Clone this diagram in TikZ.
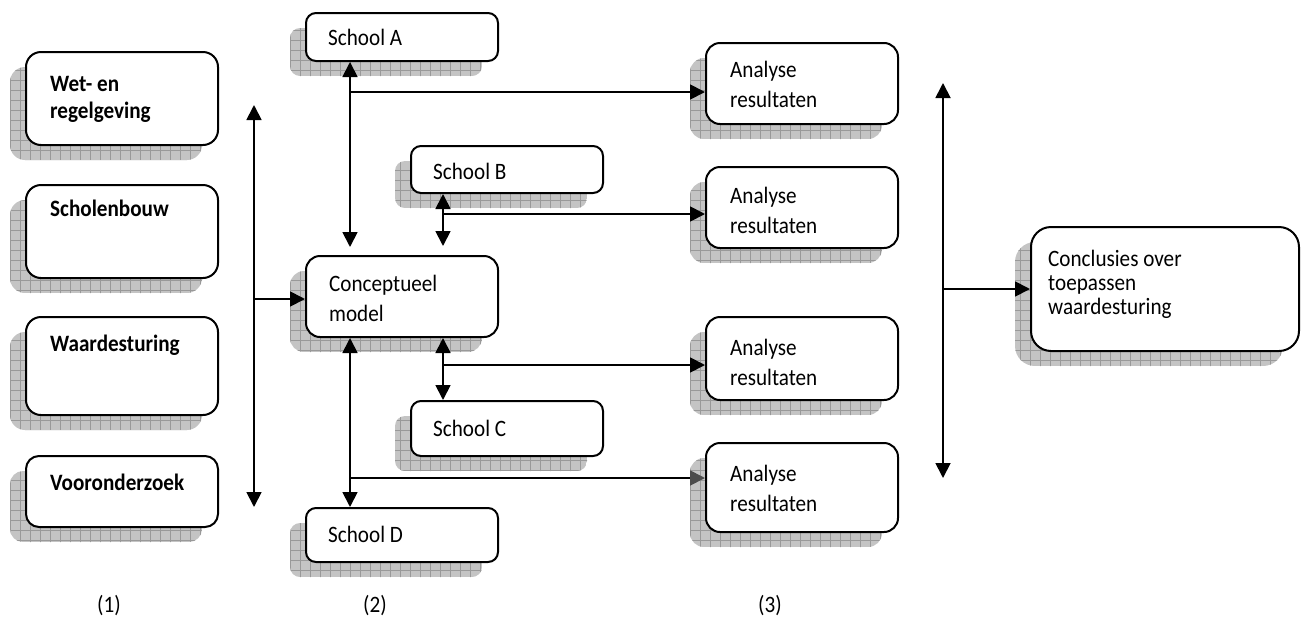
\documentclass[tikz,border=0pt]{standalone}
\usepackage{fontspec}
\setmainfont{Carlito}[FakeStretch=0.9]
\usetikzlibrary{arrows.meta}

\definecolor{shadowbase}{HTML}{C4C4C4}
\definecolor{shadowline}{HTML}{999999}

\tikzset{
  box/.style={draw=black, line width=2pt, fill=white, inner sep=0pt},
  shadowfill/.style={fill=shadowbase},
  shadowgrid/.style={draw=shadowline, line width=0.6pt, step=10pt},
  txt/.style={inner sep=0pt, anchor=west, align=left,
              font=\fontsize{23.5}{30}\selectfont},
  boldtxt/.style={txt, font=\fontsize{23.5}{27}\selectfont\bfseries},
  conn/.style={line width=1.8pt, -{Triangle[length=15pt,width=15pt]}},
  dblconn/.style={line width=1.8pt,
    {Triangle[length=15pt,width=15pt]}-{Triangle[length=15pt,width=15pt]}},
}

% rounded box with a gridded drop shadow to the lower left
% #1 name, #2 left, #3 top, #4 right, #5 bottom, #6 corner radius
\newcommand\shadedbox[6]{%
  \begin{scope}
    \clip[rounded corners=#6] ({#2-16},{#3+15}) rectangle ({#4-16},{#5+15});
    \fill[shadowfill] ({#2-16},{#3+15}) rectangle ({#4-16},{#5+15});
    \draw[shadowgrid] ({#2-26},{#3+5}) grid ({#4-6},{#5+25});
  \end{scope}
  \node[box, rounded corners=#6,
        minimum width={(#4-#2)*1pt}, minimum height={(#5-#3)*1pt}]
        (#1) at ({(#2+#4)/2},{(#3+#5)/2}) {};
}

\begin{document}
\begin{tikzpicture}[x=1pt,y=-1pt]
\useasboundingbox (0,0) rectangle (1306,619);

% column 1: sources
\shadedbox{wet}{26}{52}{218}{145}{15}
\shadedbox{bouw}{26}{185}{218}{278}{15}
\shadedbox{waarde}{26}{317}{218}{415}{15}
\shadedbox{voor}{26}{456}{218}{527}{13}
\node[boldtxt] (twet) at (50,99) {Wet- en\\regelgeving};
\node[boldtxt] (tbouw) at (50,208) {Scholenbouw};
\node[boldtxt] (twaarde) at (50,345) {Waardesturing};
\node[boldtxt] (tvoor) at (50,482) {Vooronderzoek};

% column 2: model and schools
\shadedbox{schA}{306}{13}{498}{61}{10}
\shadedbox{schB}{411}{146}{603}{193}{10}
\shadedbox{concept}{306}{256}{498}{337}{14}
\shadedbox{schC}{411}{401}{603}{456}{10}
\shadedbox{schD}{306}{508}{498}{562}{10}
\node[txt] (tA) at (328,37) {School A};
\node[txt] (tB) at (433,171) {School B};
\node[txt] (tconcept) at (329,298) {Conceptueel\\model};
\node[txt] (tC) at (433,428) {School C};
\node[txt] (tD) at (328,534) {School D};

% column 3: analyses
\shadedbox{ana1}{706}{43}{898}{124}{14}
\shadedbox{ana2}{706}{167}{898}{248}{14}
\shadedbox{ana3}{706}{317}{898}{400}{14}
\shadedbox{ana4}{706}{443}{898}{532}{14}
\node[txt] (t1) at (730,84) {Analyse\\resultaten};
\node[txt] (t2) at (730,210.5) {Analyse\\resultaten};
\node[txt] (t3) at (730,362.5) {Analyse\\resultaten};
\node[txt] (t4) at (730,488.5) {Analyse\\resultaten};

% conclusion
\shadedbox{concl}{1031}{227}{1299}{351}{20}
\node[txt, font=\fontsize{23.5}{24}\selectfont] (tconcl) at (1048,284)
  {Conclusies over\\toepassen\\waardesturing};

% column labels
\node[txt, anchor=center] (n1) at (109,606) {(1)};
\node[txt, anchor=center] (n2) at (375,606) {(2)};
\node[txt, anchor=center] (n3) at (770,606) {(3)};

% left bus into the conceptual model
\coordinate (Ltop) at (254,105);
\coordinate (Lbot) at (254,507);
\coordinate (Lj) at (254,299);
\draw[dblconn] (Ltop) -- (Lbot);
\draw[conn] (Lj) -- (Lj -| concept.west);

% links between model and schools
\coordinate (xA) at (350,0);
\coordinate (xB) at (443,0);
\draw[dblconn] (schA.south -| xA) -- ([yshift=8pt]concept.north -| xA);
\draw[dblconn] (schB.south -| xB) -- ([yshift=9pt]concept.north -| xB);
\draw[dblconn] (concept.south -| xB) -- (schC.north -| xB);
\draw[dblconn] (concept.south -| xA) -- (schD.north -| xA);

% branches to the analyses
\coordinate (jA) at (350,92);
\coordinate (jB) at (443,214);
\coordinate (jC) at (443,365);
\coordinate (jD) at (350,478);
\draw[conn] (jA) -- (jA -| ana1.west);
\draw[conn] (jB) -- (jB -| ana2.west);
\draw[conn] (jC) -- (jC -| ana3.west);
\draw[line width=1.8pt, -{Triangle[length=15pt,width=15pt,color=black!70]}]
  (jD) -- (jD -| ana4.west);

% right bus into the conclusion
\coordinate (Rtop) at (943,83);
\coordinate (Rbot) at (943,478);
\coordinate (Rj) at (943,289);
\draw[dblconn] (Rtop) -- (Rbot);
\draw[conn] (Rj) -- (Rj -| concl.west);
\end{tikzpicture}
\end{document}
